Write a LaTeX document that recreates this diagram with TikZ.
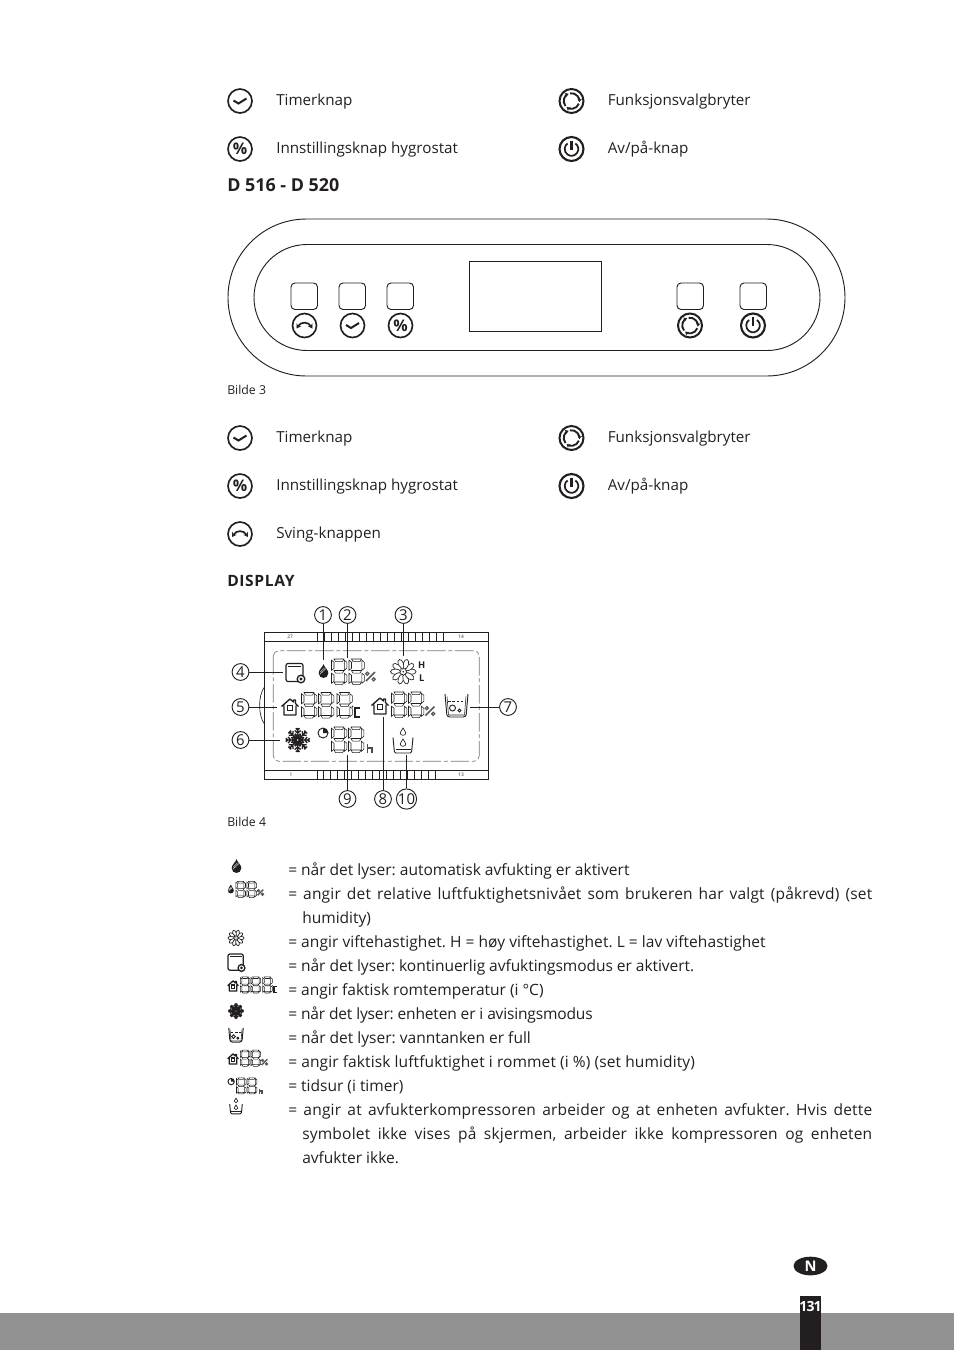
\documentclass[tikz,border=0pt]{standalone}
\usepackage{fontspec}
\setmainfont{Open Sans}
\usetikzlibrary{arrows.meta, positioning, shapes.geometric}
\definecolor{inkblack}{RGB}{35,31,32}
\definecolor{bandgray}{RGB}{146,146,146}
\definecolor{dashgray}{RGB}{120,120,120}
\newcommand{\fullline}[1]{\hbox to 438pt{\addfontfeature{LetterSpace=1.2}#1}}
\newcommand{\tightby}[1]{\addfontfeature{LetterSpace=#1}}
\tikzset{
  every pic/.style={transform shape},
  listtext/.style={anchor=base west, inner sep=0pt, text=inkblack, font=\fontsize{11.4}{14}\selectfont},
  legtext/.style={anchor=base west, inner sep=0pt, text=inkblack, font=\frenchspacing\fontsize{11.65}{14}\selectfont},
  headtext/.style={anchor=base west, inner sep=0pt, text=inkblack, font=\bfseries\fontsize{13.4}{15}\selectfont},
  captext/.style={anchor=base west, inner sep=0pt, text=inkblack, font=\fontsize{9.2}{11}\selectfont},
  tinytext/.style={inner sep=0pt, text=inkblack, font=\fontsize{3.6}{4}\selectfont},
  circnum/.style={draw=inkblack, circle, line width=0.7pt, minimum size=12.6pt, inner sep=0pt, text=inkblack, font=\fontsize{11.2}{12}\selectfont},
  leader/.style={draw=inkblack, line width=0.5pt},
  panelline/.style={draw=inkblack, line width=0.7pt},
  iconline/.style={draw=inkblack, line width=1.25pt},
  lcdline/.style={draw=inkblack, line width=0.42pt},
  lcdthick/.style={draw=inkblack, line width=0.7pt},
  % round icons of the buttons
  iconclock/.pic={
    \draw[iconline] (0,0) circle (12);
    \draw[iconline, line width=1.5pt] (-6.5,-0.5) -- (-1.5,2.5) -- (6.5,-2.5);
  },
  iconpct/.pic={
    \draw[iconline] (0,0) circle (12);
    \node[inner sep=0pt, text=inkblack, font=\bfseries\fontsize{12}{12}\selectfont] (pctsign) at (0,0) {\%};
  },
  iconswing/.pic={
    \draw[iconline] (0,0) circle (12);
    \draw[iconline, {Stealth[length=3.4pt,width=4pt]}-{Stealth[length=3.4pt,width=4pt]}] (-8,3) .. controls (-3.5,-4) and (3.5,-4) .. (8,3);
  },
  iconfunc/.pic={
    \draw[iconline, line width=1.5pt] (0,0) circle (12);
    \foreach \a in {20,140,260}
      \draw[iconline, line width=1.4pt, -{Stealth[length=2.6pt,width=3.4pt]}] (\a:7.8) arc (\a:\a+108:7.8);
  },
  iconpower/.pic={
    \draw[iconline, line width=1.6pt] (0,0) circle (12);
    \draw[iconline, line width=1.3pt] (-55:6.8) arc (-55:235:6.8);
    \draw[iconline, line width=1.6pt] (0,-8.5) -- (0,0.5);
  },
  % liquid crystal symbols
  digit/.pic={
    \foreach \dy in {0,11.5,23}
      \draw[lcdline] (3,\dy) -- (13,\dy) -- (11.5,\dy+2.6) -- (4.5,\dy+2.6) -- cycle;
    \foreach \dy in {0,13}
      \foreach \dx in {0,12.8}
        \draw[lcdline] (\dx+0.5,\dy+1.2) -- (\dx+3,\dy+3.2) -- (\dx+3,\dy+9.3) -- (\dx+0.5,\dy+11.3) -- cycle;
  },
  pctsmall/.pic={
    \draw[inkblack!75, line width=1.1pt] (-4.5,4.5) -- (4.5,-4.5);
    \draw[inkblack!75, line width=0.9pt] (-3.2,-2.8) circle (1.6) (3.2,2.8) circle (1.6);
  },
  droplet/.pic={
    \fill[inkblack] (0,-7) .. controls (-1,-3.5) and (-4.8,-1.5) .. (-4.8,2.2) .. controls (-4.8,8.5) and (4.8,8.5) .. (4.8,2.2) .. controls (4.8,-1.5) and (1,-3.5) .. (0,-7) -- cycle;
    \draw[white, line width=0.3pt] (-3.2,1) -- (1,-3.2) (-3.6,3.2) -- (2.6,-2.6);
  },
  fanwheel/.pic={
    \foreach \a in {0,36,...,324}
      \draw[lcdline, line width=0.5pt, fill=white, rotate=\a] (7.8,0) ellipse (5 and 2.7);
    \fill[inkblack] (0,0) circle (0.9);
  },
  timertank/.pic={
    \draw[lcdthick, line width=0.9pt, rounded corners=1.5pt] (0,0) rectangle (17,18);
    \draw[lcdline] (2,3) -- (15,3);
    \draw[lcdthick, line width=1pt, fill=white] (15,15.5) circle (3.8);
    \fill[inkblack] (15,15.5) circle (1.7);
  },
  househut/.pic={
    \draw[inkblack, line width=1pt, line join=round] (-8.5,-0.5) -- (0,-8) -- (3.5,-5) -- (3.5,-7) -- (5.5,-7) -- (5.5,-3.5) -- (8.5,-0.5) (-6,-1.5) -- (-6,8) -- (6,8) -- (6,-1.5);
    \draw[inkblack, line width=0.9pt] (-2.5,-1.5) rectangle (2.5,3.5);
  },
  snowflake/.pic={
    \foreach \a in {0,45,...,315}
      \draw[inkblack, line width=1pt, rotate=\a] (0,0) -- (12,0) (4,0) -- (6,3) (4,0) -- (6,-3) (7,0) -- (9.5,3) (7,0) -- (9.5,-3) (10,0) -- (11.8,1.8) (10,0) -- (11.8,-1.8);
    \fill[inkblack] (0,0) circle (4.5);
    \fill[white] (0,0) circle (0.8);
  },
  clockface/.pic={
    \draw[lcdthick] (0,0) circle (5);
    \fill[inkblack] (0,0) -- (0,-5) arc (270:360:5) -- cycle;
  },
  fulltank/.pic={
    \draw[lcdthick, rounded corners=2pt] (-11.5,-11.5) -- (-9.5,11.5) -- (9.5,11.5) -- (11.5,-11.5);
    \draw[lcdline] (-9.5,-9) -- (-8,9.5) -- (8,9.5) -- (9.5,-9);
    \draw[lcdthick, dash pattern=on 2pt off 1.2pt] (-8.5,-4) -- (8.5,-4);
    \draw[lcdthick] (-4,2.5) circle (3) (3,5) circle (1.5);
  },
  droptank/.pic={
    \draw[lcdthick, rounded corners=1pt] (-10,-3) -- (-8.5,12.5) -- (8.5,12.5) -- (10,-3);
    \draw[lcdline] (-7.5,9) -- (7.5,9);
    \foreach \dy in {-9,2}
      \draw[lcdline, line width=0.5pt] (0,\dy-3.5) .. controls (-1,\dy-1) and (-2.8,\dy) .. (-2.8,\dy+1.5) .. controls (-2.8,\dy+4.5) and (2.8,\dy+4.5) .. (2.8,\dy+1.5) .. controls (2.8,\dy) and (1,\dy-1) .. (0,\dy-3.5) -- cycle;
  },
  % groups of symbols and digits
  humset/.pic={
    \pic at (4.5,0) {droplet};
    \pic at (12,-12) {digit};
    \pic at (29.5,-12) {digit};
    \pic at (51.5,5.5) {pctsmall};
  },
  tempread/.pic={
    \pic at (8,0) {househut};
    \pic at (19,-14.5) {digit};
    \pic at (36,-14.5) {digit};
    \pic at (54.5,-14.5) {digit};
    \draw[inkblack, line width=1pt] (78,1) -- (73,1) -- (73,10) -- (78,10);
    \fill[inkblack] (70.5,-0.3) circle (1);
  },
  humroom/.pic={
    \pic at (8,0) {househut};
    \pic at (19,-14) {digit};
    \pic at (36,-14) {digit};
    \pic at (58,5) {pctsmall};
  },
  timeread/.pic={
    \pic at (5,-7) {clockface};
    \pic at (13,-13) {digit};
    \pic at (30,-13) {digit};
    \draw[inkblack!80, line width=0.9pt] (49.5,4) -- (49.5,13) (49.5,8) -- (54,8) -- (54,13);
  }
}

\begin{document}
\begin{tikzpicture}[x=0.75pt, y=-0.75pt]

  \useasboundingbox (0,0) rectangle (954,1350);

  % First key list
  \pic at (240,101) {iconclock};
  \node[listtext] (timerA) at (276,105) {Timerknap};
  \pic at (240,149) {iconpct};
  \node[listtext] (hygroA) at (276,153) {Innstillingsknap hygrostat};
  \pic at (571.5,101) {iconfunc};
  \node[listtext] (funcA) at (607.5,105) {Funksjonsvalgbryter};
  \pic at (571.5,149) {iconpower};
  \node[listtext] (powerA) at (607.5,153) {Av/på-knap};

  \node[headtext] (model) at (227,191) {D 516 - D 520};

  % Control panel
  \draw[panelline, rounded corners=58.8pt] (228,219) rectangle (845,376);
  \draw[panelline, rounded corners=39.7pt] (254,244.5) rectangle (820,350.5);
  \draw[panelline] (469.5,261.5) rectangle (601.5,331.5);
  \foreach \bx in {291,339,387,677,740}
    \draw[panelline, rounded corners=3pt] (\bx,283) rectangle ++(26.5,26.5);
  \pic at (304.5,325.5) {iconswing};
  \pic at (352.5,325.5) {iconclock};
  \pic at (400.5,325.5) {iconpct};
  \pic at (690,325.5) {iconfunc};
  \pic at (753,325.5) {iconpower};
  \node[captext] (capA) at (227,394) {Bilde 3};

  % Second key list
  \pic at (240,438) {iconclock};
  \node[listtext] (timerB) at (276,442) {Timerknap};
  \pic at (240,486) {iconpct};
  \node[listtext] (hygroB) at (276,490) {Innstillingsknap hygrostat};
  \pic at (240,534) {iconswing};
  \node[listtext] (swingB) at (276,538) {Sving-knappen};
  \pic at (571.5,438) {iconfunc};
  \node[listtext] (funcB) at (607.5,442) {Funksjonsvalgbryter};
  \pic at (571.5,486) {iconpower};
  \node[listtext] (powerB) at (607.5,490) {Av/på-knap};

  \node[headtext, font=\bfseries\fontsize{11.7}{14}\selectfont] (display) at (227,586) {\addfontfeature{LetterSpace=4}DISPLAY};

  % Display frame
  \draw[lcdthick] (264.5,632.5) rectangle (488.5,779);
  \draw[lcdthick] (264.5,641.5) -- (488.5,641.5) (264.5,770.3) -- (488.5,770.3);
  \foreach \i in {0,...,17}
    \draw[lcdthick] (317+7.05*\i,632.5) rectangle ++(7.05,9);
  \foreach \i in {0,...,16}
    \draw[lcdthick] (317+6.95*\i,770.3) rectangle ++(6.95,8.7);
  \node[tinytext] (pinA) at (290,636.5) {27};
  \node[tinytext] (pinB) at (461,636.5) {14};
  \node[tinytext] (pinC) at (291,774.5) {1};
  \node[tinytext] (pinD) at (461,774.5) {13};
  \draw[dashgray, line width=0.5pt, rounded corners=4pt, dash pattern=on 14pt off 2pt on 3pt off 2pt] (273.3,650.7) rectangle (479.3,761.3);
  \draw[lcdline, line width=0.5pt] (264.5,687) .. controls (258,695) and (258,716) .. (264.5,724);

  % Display symbols
  \pic at (319,671) {humset};
  \pic at (403.3,671.7) {fanwheel};
  \node[inner sep=0pt, text=inkblack, font=\bfseries\fontsize{7}{8}\selectfont] (fanH) at (421.7,665) {H};
  \node[inner sep=0pt, text=inkblack, font=\bfseries\fontsize{7}{8}\selectfont] (fanL) at (421.7,678.5) {L};
  \pic at (286,663.5) {timertank};
  \pic at (282,707) {tempread};
  \pic at (372,706) {humroom};
  \pic at (456.5,705.5) {fulltank};
  \pic at (297.7,740) {snowflake};
  \pic at (318,740) {timeread};
  \pic at (403,740.5) {droptank};

  % Numbers and leaders
  \node[circnum] (n1) at (323,615) {1};
  \node[circnum] (n2) at (347.5,615) {2};
  \node[circnum] (n3) at (403.5,615) {3};
  \node[circnum] (n4) at (240.5,672) {4};
  \node[circnum] (n5) at (240.5,707) {5};
  \node[circnum] (n6) at (240.5,740) {6};
  \node[circnum] (n7) at (508,707) {7};
  \node[circnum] (n8) at (383,799) {8};
  \node[circnum] (n9) at (347.5,799) {9};
  \node[circnum] (n10) at (406.5,799) {10};
  \coordinate (t1) at (323,660);
  \coordinate (t2) at (347.5,658);
  \coordinate (t3) at (403.5,656);
  \coordinate (t4) at (283,672);
  \coordinate (t5) at (277,707);
  \coordinate (t6) at (280,740);
  \coordinate (t7) at (470,707);
  \coordinate (t8) at (383,717);
  \coordinate (t9) at (347.5,755);
  \coordinate (t10) at (406.5,755);
  \foreach \k in {1,...,10}
    \draw[leader] (n\k) -- (t\k);
  \node[captext] (capB) at (227,826) {Bilde 4};

  % Legend icons
  \pic at (236.5,866) {droplet};
  \pic[scale=0.63] at (228,889) {humset};
  \pic[scale=0.63] at (236,938) {fanwheel};
  \pic[scale=0.9] at (228,954) {timertank};
  \pic[scale=0.63] at (228,986) {tempread};
  \pic[scale=0.63] at (236,1011) {snowflake};
  \pic[scale=0.63] at (236,1035) {fulltank};
  \pic[scale=0.63] at (228,1059) {humroom};
  \pic[scale=0.63] at (228,1086) {timeread};
  \pic[scale=0.63] at (236,1106) {droptank};

  % Legend text
  \node[legtext] (leg1) at (288,875) {= når det lyser: automatisk avfukting er aktivert};
  \node[legtext] (leg2) at (288,899) {\fullline{= angir det relative luftfuktighetsnivået som brukeren har valgt (påkrevd) (set}};
  \node[legtext] (leg2b) at (302,923) {humidity)};
  \node[legtext] (leg3) at (288,947) {\tightby{0.4}= angir viftehastighet. H = høy viftehastighet. L = lav viftehastighet};
  \node[legtext] (leg4) at (288,971) {\tightby{-0.35}= når det lyser: kontinuerlig avfuktingsmodus er aktivert.};
  \node[legtext] (leg5) at (288,995) {= angir faktisk romtemperatur (i °C)};
  \node[legtext] (leg6) at (288,1019) {\tightby{-1.1}= når det lyser: enheten er i avisingsmodus};
  \node[legtext] (leg7) at (288,1043) {= når det lyser: vanntanken er full};
  \node[legtext] (leg8) at (288,1067) {\tightby{0.7}= angir faktisk luftfuktighet i rommet (i \%) (set humidity)};
  \node[legtext] (leg9) at (288,1091) {= tidsur (i timer)};
  \node[legtext] (leg10) at (288,1115) {\fullline{= angir at avfukterkompressoren arbeider og at enheten avfukter. Hvis dette}};
  \node[legtext] (leg10b) at (302,1139) {\hbox to 427.5pt{\addfontfeature{LetterSpace=1.2}symbolet ikke vises på skjermen, arbeider ikke kompressoren og enheten}};
  \node[legtext] (leg10c) at (302,1163) {avfukter ikke.};

  % Page marks
  \fill[bandgray] (0,1313) rectangle (954,1350);
  \fill[inkblack] (800,1296) rectangle (821,1350);
  \node[ellipse, fill=inkblack, text=white, minimum width=25.5pt, minimum height=14pt, inner sep=0pt, font=\bfseries\fontsize{11}{12}\selectfont] (lang) at (810.5,1266) {N};
  \node[inner sep=0pt, text=white, font=\bfseries\fontsize{10.5}{12}\selectfont] (pagenum) at (810.5,1306) {\addfontfeature{LetterSpace=-6}131};

\end{tikzpicture}
\end{document}
